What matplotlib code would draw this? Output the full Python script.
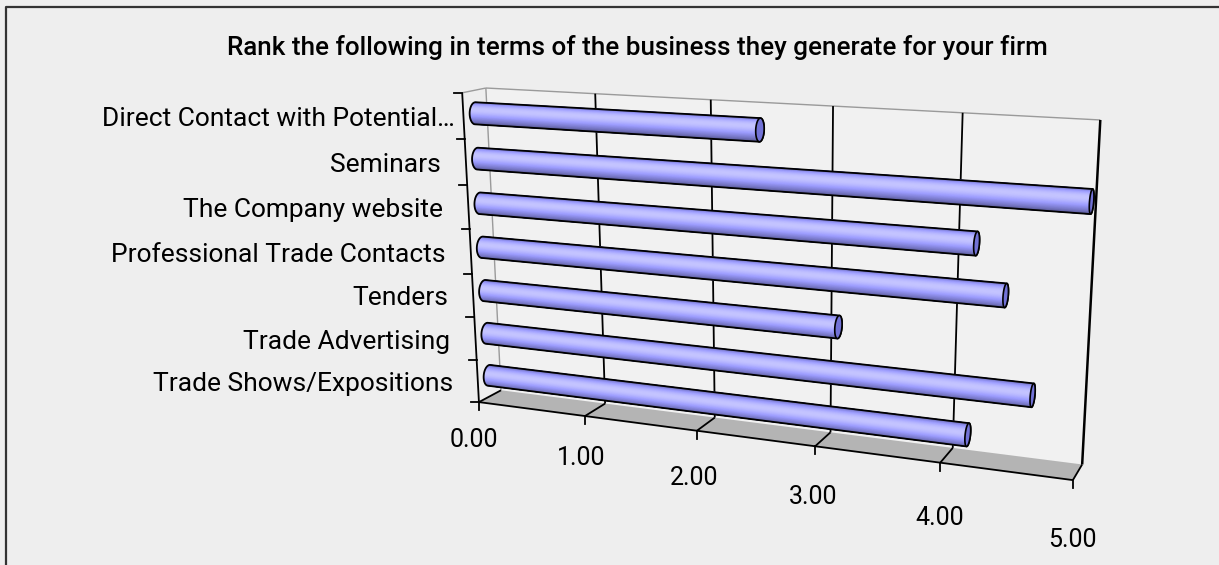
import numpy as np
import matplotlib.pyplot as plt
from matplotlib.patches import Polygon

plt.rcParams['font.family'] = ['Roboto', 'DejaVu Sans']

title = "Rank the following in terms of the business they generate for your firm"
categories = ["Trade Shows/Expositions", "Trade Advertising", "Tenders",
              "Professional Trade Contacts", "The Company website", "Seminars",
              "Direct Contact with Potential…"]
scores = [4.16, 4.64, 3.12, 4.41, 4.18, 5.00, 2.48]
value_ticks = [0, 1, 2, 3, 4, 5]
value_labels = ["0.00", "1.00", "2.00", "3.00", "4.00", "5.00"]

# box corners (value, category, depth) and where they sit on the canvas
box_world = [(0, 0, 1), (0, 7, 1), (5, 7, 1), (5, 0, 1), (0, 0, 0), (0, 7, 0),
             (5, 0, 0), (1, 7, 1), (2, 7, 1), (3, 7, 1), (4, 7, 1)]
box_pixel = [(501, 390), (485, 88), (1100, 120), (1082, 465), (479, 402), (462, 93),
             (1073, 480), (596, 94), (712, 100), (832, 106), (963, 112)]


def fit_camera(world, pixel):
    w = np.asarray(world, float)
    p = (np.asarray(pixel, float) - [610, 280]) / 300
    rows = []
    for q3, (u, v) in zip(w, p):
        q = np.r_[q3, 1.0]
        rows.append(np.r_[q, np.zeros(4), -u * q])
        rows.append(np.r_[np.zeros(4), q, -v * q])
    m = np.linalg.svd(np.array(rows))[2][-1].reshape(3, 4)
    t = np.array([[300, 0, 610], [0, 300, 280], [0, 0, 1.0]])
    return t @ m


P = fit_camera(box_world, box_pixel)


def proj(pts):
    pts = np.atleast_2d(np.asarray(pts, float))
    h = np.c_[pts, np.ones(len(pts))] @ P.T
    return h[:, :2] / h[:, 2:3]


def area(q):
    x, y = q[:, 0], q[:, 1]
    return 0.5 * np.sum(x * np.roll(y, -1) - np.roll(x, -1) * y)


def hull(pts):
    pts = sorted(map(tuple, pts))
    def half(seq):
        out = []
        for p in seq:
            while len(out) >= 2 and ((out[-1][0] - out[-2][0]) * (p[1] - out[-2][1])
                                     - (out[-1][1] - out[-2][1]) * (p[0] - out[-2][0])) <= 0:
                out.pop()
            out.append(p)
        return out
    lo, up = half(pts), half(pts[::-1])
    return np.array(lo[:-1] + up[:-1])


W, H = 1219, 565
fig = plt.figure(figsize=(W / 100, H / 100), dpi=100)
fig.patch.set_facecolor('#eeeeee')
ax = fig.add_axes([0, 0, 1, 1])
ax.set_xlim(0, W)
ax.set_ylim(H, 0)
ax.axis('off')

ax.plot([5.5, 5.5, W + 5], [H + 5, 6.5, 6.5], color='#333333', lw=1.6)


def seg(a, b, **kw):
    q = proj([a, b])
    ax.plot(q[:, 0], q[:, 1], solid_capstyle='butt', **kw)


top = len(categories)
vmax = value_ticks[-1]

# walls and floor
ax.add_patch(Polygon(proj([(0, 0, 1), (vmax, 0, 1), (vmax, top, 1), (0, top, 1)]),
                     fc='#f1f1f1', ec='none'))
ax.add_patch(Polygon(proj([(0, 0, 0), (vmax, 0, 0), (vmax, 0, 1), (0, 0, 1)]),
                     fc='#b4b4b4', ec='none'))
grey = dict(color='#9a9a9a', lw=1.0)
blk = dict(color='black', lw=1.3)
seg((0, 0, 1), (0, top, 1), **grey)
seg((0, top, 1), (vmax, top, 1), **grey)
seg((0, top, 0), (0, top, 1), **grey)
for v in value_ticks[1:-1]:
    seg((v, 0, 1), (v, top, 1), **blk)
    seg((v, 0, 0), (v, 0, 1), **blk)
seg((vmax, 0, 1), (vmax, top, 1), color='black', lw=1.8)
seg((vmax, 0, 0), (vmax, 0, 1), **blk)
seg((0, 0, 0), (0, 0, 1), **blk)
seg((0, 0, 0), (vmax, 0, 0), **blk)
seg((0, 0, 0), (0, top, 0), **blk)

for k in range(top + 1):
    x, y = proj((0, k, 0))[0]
    ax.plot([x - 8, x], [y, y], **blk)
for v, lab in zip(value_ticks, value_labels):
    x, y = proj((v, 0, 0))[0]
    ax.plot([x, x], [y, y + 8], **blk)
    ax.text(x - 5 + 1.0 * v, y + 38 + 4.4 * v, lab, ha='center', va='center', fontsize=18)

for k, lab in enumerate(categories):
    x, y = proj((0, k + 0.5, 0))[0]
    # the clipped label overflows its slot a little
    gap = 9 if lab.endswith('…') else 25
    ax.text(x - gap, y + 3, lab, ha='right', va='center', fontsize=19)

ax.text(637, 48, title, ha='center', va='center', fontsize=18.7, fontweight='medium')

# cylinders
ry, rz = 0.24, 0.24
th = np.linspace(-np.pi, np.pi, 97)
base = np.array([0.6, 0.6, 1.0])
# quad runs around its outward normal; this strip faces -z (toward the viewer)
front = np.sign(area(proj([(0, 3.4, 0.3), (0, 3.6, 0.3), (5, 3.6, 0.3), (5, 3.4, 0.3)])))
L = np.array([0.5, -0.866])

for k, val in enumerate(scores):
    hc, zc = k + 0.5, 0.5
    ring = lambda v: np.c_[np.full(th.size, v), hc + ry * np.cos(th), zc + rz * np.sin(th)]
    a, b = proj(ring(0)), proj(ring(val))
    for j in range(th.size - 1):
        quad = np.array([a[j], a[j + 1], b[j + 1], b[j]])
        if area(quad) * front <= 0:
            continue
        tm = 0.5 * (th[j] + th[j + 1])
        d = np.clip(np.cos(tm) * L[0] + np.sin(tm) * L[1], 0, 1)
        c = np.clip(base * (0.55 + 0.5 * d) + 0.14 * d ** 6, 0, 1)
        ax.add_patch(Polygon(quad, fc=c, ec=c, lw=0.6, zorder=3))
    ax.add_patch(Polygon(hull(np.r_[a, b]), fill=False, ec='black', lw=1.3, zorder=4))
    if area(b) * front > 0:
        ax.add_patch(Polygon(b, fc='#7272d6', ec='black', lw=1.2, zorder=5))

fig.savefig('out.png', dpi=100, facecolor=fig.get_facecolor())
